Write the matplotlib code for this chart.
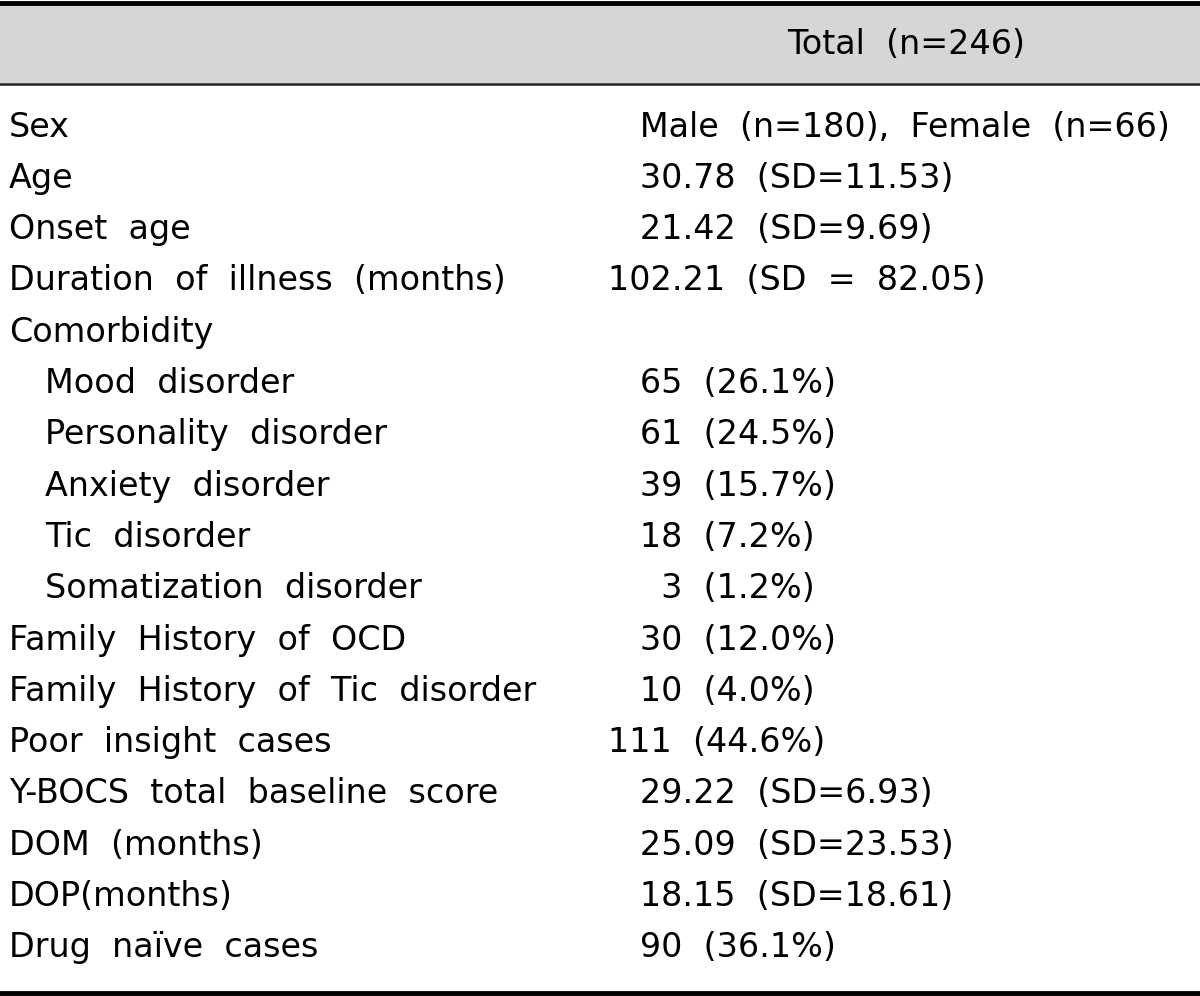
import matplotlib.pyplot as plt
from matplotlib.patches import Rectangle

plt.rcParams['font.family'] = ['DejaVu Sans']

header = "Total  (n=246)"

labels = ["Sex", "Age", "Onset  age", "Duration  of  illness  (months)", "Comorbidity",
          "Mood  disorder", "Personality  disorder", "Anxiety  disorder", "Tic  disorder",
          "Somatization  disorder", "Family  History  of  OCD", "Family  History  of  Tic  disorder",
          "Poor  insight  cases", "Y-BOCS  total  baseline  score", "DOM  (months)",
          "DOP(months)", "Drug  naïve  cases"]
indented = [False, False, False, False, False, True, True, True, True, True,
            False, False, False, False, False, False, False]
values = ["   Male  (n=180),  Female  (n=66)", "   30.78  (SD=11.53)", "   21.42  (SD=9.69)",
          "102.21  (SD  =  82.05)", "", "   65  (26.1%)", "   61  (24.5%)", "   39  (15.7%)",
          "   18  (7.2%)", "     3  (1.2%)", "   30  (12.0%)", "   10  (4.0%)", "111  (44.6%)",
          "   29.22  (SD=6.93)", "   25.09  (SD=23.53)", "   18.15  (SD=18.61)", "   90  (36.1%)"]

fig = plt.figure(figsize=(12, 9.96), dpi=100)
ax = fig.add_axes([0, 0, 1, 1])
ax.set_xlim(0, 1200)
ax.set_ylim(996, 0)
ax.axis("off")

fs = 24
ax.add_patch(Rectangle((0, 4), 1200, 79, color="#d6d6d6", lw=0))
ax.axhline(2.5, color="black", lw=3.5)
ax.axhline(83.5, color="#222222", lw=1.8)
ax.axhline(992.5, color="black", lw=3.5)

ax.text(906, 44, header, fontsize=fs, ha="center", va="center")

top = 127
step = 51.3
for i, lab in enumerate(labels):
    y = top + i * step
    x = 45 if indented[i] else 9
    ax.text(x, y, lab, fontsize=fs, ha="left", va="center")
    ax.text(608, y, values[i], fontsize=fs, ha="left", va="center")

fig.savefig("out.png", dpi=100)
